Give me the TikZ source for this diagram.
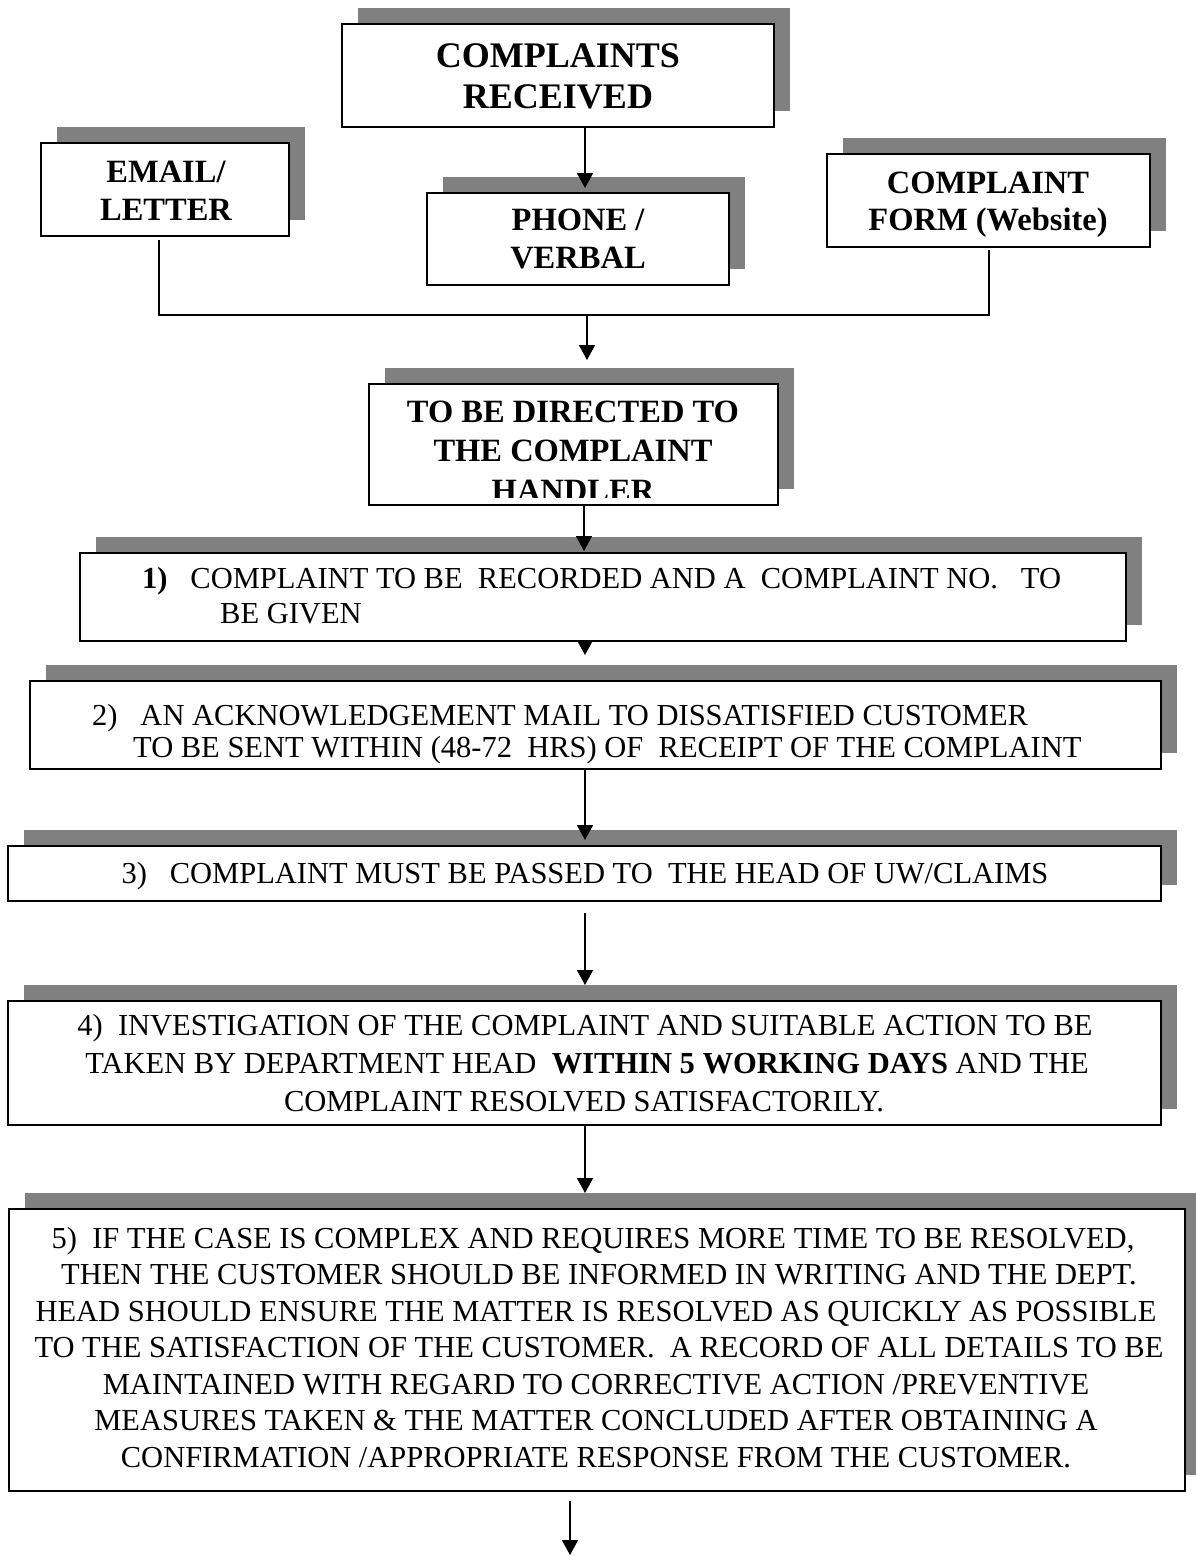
\documentclass[tikz,border=0pt]{standalone}
\usepackage{fontspec}
\setmainfont{Liberation Serif}
\usetikzlibrary{arrows.meta,fit}
\definecolor{shadowgray}{RGB}{128,128,128}
\frenchspacing
\begin{document}
\begin{tikzpicture}[x=1pt,y=-1pt,
  box/.style={draw, line width=2pt, fill=white, inner sep=0pt, outer sep=0pt,
     preaction={fill=shadowgray, transform canvas={xshift=16pt,yshift=16pt}}},
  txt/.style={inner sep=0pt, anchor=base},
  txtl/.style={inner sep=0pt, anchor=base west},
  ftitle/.style={font=\fontsize{36}{41}\selectfont\bfseries},
  fhead/.style={font=\fontsize{32.5}{38}\selectfont\bfseries},
  fbody/.style={font=\fontsize{30.5}{36}\selectfont},
  conn/.style={line width=1.7pt},
  arr/.style={conn, -{Triangle[length=15pt,width=16pt]}},
]
\useasboundingbox (0,0) rectangle (1195,1556);

% boxes
\node[box, fit={(342,24) (774,127)}] (A) {};
\node[box, fit={(41,143) (289,236)}] (B) {};
\node[box, fit={(427,193) (729,285)}] (C) {};
\node[box, fit={(827,154) (1150,247)}] (D) {};
\node[box, fit={(369,384) (778,505)}] (E) {};
\node[box, fit={(80,553) (1126,641)}] (F) {};
\node[box, fit={(30,681) (1161,769)}] (G) {};
\node[box, fit={(8,846) (1161,901)}] (H) {};
\node[box, fit={(8,1001) (1161,1125)}] (I) {};
\node[box, fit={(9,1209) (1185,1491)}] (J) {};

% texts
\node[txt,ftitle] (a1) at (558,67) {COMPLAINTS};
\node[txt,ftitle] (a2) at (558,108) {RECEIVED};

\node[txt,fhead] (b1) at (166,182) {EMAIL/};
\node[txt,fhead] (b2) at (166,220) {LETTER};

\node[txt,fhead] (c1) at (578,230) {PHONE /};
\node[txt,fhead] (c2) at (578,268) {VERBAL};

\node[txt,fhead] (d1) at (988,193) {COMPLAINT};
\node[txt,fhead] (d2) at (988,230) {FORM (Website)};

\begin{scope}
\clip (370,385) rectangle (777,497);
\node[txt,fhead] (e1) at (573,422) {TO BE DIRECTED TO};
\node[txt,fhead] (e2) at (573,461) {THE COMPLAINT};
\node[txt,fhead] (e3) at (573,501) {HANDLER};
\end{scope}

\node[txtl,fbody] (f1) at (142,588) {\textbf{1)}\ \ \ COMPLAINT TO BE\ \ RECORDED AND A\ \ COMPLAINT NO.\ \ \ TO};
\node[txtl,fbody] (f2) at (220,623) {BE GIVEN};

\node[txtl,fbody] (g1) at (92,725) {2)\ \ \ AN ACKNOWLEDGEMENT MAIL TO DISSATISFIED CUSTOMER};
\node[txtl,fbody] (g2) at (133,757) {TO BE SENT WITHIN (48-72\ \ HRS) OF\ \ RECEIPT OF THE COMPLAINT};

\node[txt,fbody] (h1) at (585,883) {3)\ \ \ COMPLAINT MUST BE PASSED TO\ \ THE HEAD OF UW/CLAIMS};

\node[txt,fbody] (i1) at (585,1035) {4)\ \ INVESTIGATION OF THE COMPLAINT AND SUITABLE ACTION TO BE};
\node[txt,fbody] (i2) at (587,1073) {TAKEN BY DEPARTMENT HEAD\ \ \textbf{WITHIN 5 WORKING DAYS} AND THE};
\node[txt,fbody] (i3) at (584,1111) {COMPLAINT RESOLVED SATISFACTORILY.};

\node[txt,fbody] (j1) at (593,1248) {5)\ \ IF THE CASE IS COMPLEX AND REQUIRES MORE TIME TO BE RESOLVED,};
\node[txt,fbody] (j2) at (599,1284.5) {THEN THE CUSTOMER SHOULD BE INFORMED IN WRITING AND THE DEPT.};
\node[txt,fbody] (j3) at (596,1321) {HEAD SHOULD ENSURE THE MATTER IS RESOLVED AS QUICKLY AS POSSIBLE};
\node[txt,fbody] (j4) at (599,1357.5) {TO THE SATISFACTION OF THE CUSTOMER.\ \ A RECORD OF ALL DETAILS TO BE};
\node[txt,fbody] (j5) at (596,1394) {MAINTAINED WITH REGARD TO CORRECTIVE ACTION /PREVENTIVE};
\node[txt,fbody] (j6) at (596,1430.5) {MEASURES TAKEN \& THE MATTER CONCLUDED AFTER OBTAINING A};
\node[txt,fbody] (j7) at (596,1467) {CONFIRMATION /APPROPRIATE RESPONSE FROM THE CUSTOMER.};

% connectors
\coordinate (xc) at (585,0);
\coordinate (xe) at (584,0);
\coordinate (bl) at (159,0);
\coordinate (dl) at (989,0);
\coordinate (jn) at (587,315);
\coordinate (fend) at (585,655);
\coordinate (jend) at (570,1555);

\draw[arr, shorten >=5pt] (A.south -| xc) -- (C.north -| xc);
\draw[conn, shorten <=4pt, shorten >=3pt] (B.south -| bl) |- (jn) -| (D.south -| dl);
\draw[arr, shorten >=24pt] (jn) -- (E.north -| jn);
\draw[arr, shorten >=2pt] (E.south -| xe) -- (F.north -| xe);
\draw[arr] (F.south -| xc) -- (fend);
\draw[arr, shorten >=6pt] (G.south -| xc) -- (H.north -| xc);
\draw[arr, shorten <=12pt, shorten >=16pt] (H.south -| xc) -- (I.north -| xc);
\draw[arr, shorten >=16pt] (I.south -| xc) -- (J.north -| xc);
\draw[arr, shorten <=10pt] (J.south -| jend) -- (jend);
\end{tikzpicture}
\end{document}
